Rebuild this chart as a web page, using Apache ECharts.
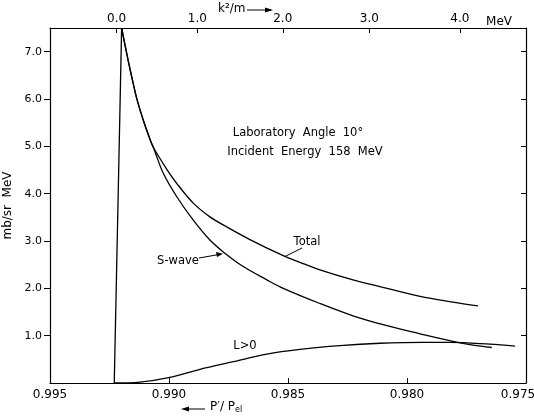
<!DOCTYPE html>
<html><head><meta charset="utf-8">
<script src="https://cdn.jsdelivr.net/npm/echarts@6/dist/echarts.min.js"></script>
<style>html,body{margin:0;padding:0;background:#fff}#c{width:534px;height:419px}</style>
</head><body><div id="c"></div>
<script>
// Bottom axis: P'/P_el
const bottomTickValues = [0.995, 0.990, 0.985, 0.980, 0.975];
const bottomTickLabels = ['0.995', '0.990', '0.985', '0.980', '0.975'];
// Top axis: k^2/m (MeV), placed at the corresponding P'/P_el
const topTickValues = [0.99220, 0.98881, 0.98522, 0.98158, 0.97778];
const topTickLabels = ['0.0', '1.0', '2.0', '3.0', '4.0'];
// Left axis: mb/sr MeV
const yTickValues = [1, 2, 3, 4, 5, 6, 7];
const yTickLabels = ['1.0', '2.0', '3.0', '4.0', '5.0', '6.0', '7.0'];

// Threshold rise (shared by S-wave and Total)
const threshold = [[0.99230, 0], [0.99199, 7.5]];
// S-wave
const sWave = [
  [0.99199, 7.5], [0.99188, 7.22], [0.99171, 6.80], [0.99150, 6.32], [0.99136, 6.02],
  [0.99108, 5.55], [0.99080, 5.15], [0.99066, 4.98], [0.99024, 4.43], [0.98968, 3.94],
  [0.98898, 3.44], [0.98828, 3.02], [0.98772, 2.77], [0.98688, 2.46], [0.98589, 2.18],
  [0.98520, 2.00], [0.98366, 1.68], [0.98227, 1.42], [0.98084, 1.21], [0.97945, 1.04],
  [0.97807, 0.88], [0.97723, 0.80], [0.97644, 0.75]
];
// Total
const total = [
  [0.99199, 7.5], [0.99188, 7.22], [0.99171, 6.80], [0.99150, 6.32], [0.99136, 6.02],
  [0.99108, 5.55], [0.99080, 5.15], [0.99066, 4.98], [0.99010, 4.52], [0.98968, 4.22],
  [0.98898, 3.80], [0.98828, 3.51], [0.98758, 3.30], [0.98660, 3.03], [0.98520, 2.69],
  [0.98450, 2.55], [0.98366, 2.39], [0.98227, 2.18], [0.98084, 2.00], [0.97945, 1.83],
  [0.97807, 1.71], [0.97702, 1.63]
];
// L > 0
const lGt0 = [
  [0.99230, 0], [0.99122, 0.02], [0.98996, 0.12], [0.98870, 0.29], [0.98730, 0.45],
  [0.98589, 0.61], [0.98450, 0.71], [0.98282, 0.79], [0.98113, 0.84], [0.97933, 0.86],
  [0.97819, 0.86], [0.97651, 0.82], [0.97546, 0.78]
];

const FONT = 'DejaVu Sans';
function lookup(vals, labels) {
  return function (v) {
    for (let i = 0; i < vals.length; i++) if (Math.abs(vals[i] - v) < 1e-7) return labels[i];
    return '';
  };
}
const bottomLabel = lookup(bottomTickValues, bottomTickLabels);
const lineStyle = { color: '#000', width: 1.3 };
function curve(name, data, smooth) {
  return { name, type: 'line', data, xAxisIndex: 0, yAxisIndex: 0, showSymbol: false,
    smooth: smooth, lineStyle, clip: true, silent: true };
}

const chart = echarts.init(document.getElementById('c'), null, { renderer: 'canvas' });
chart.setOption({
  animation: false,
  backgroundColor: '#fff',
  grid: { left: 50, right: 8, top: 28, bottom: 36, containLabel: false, outerBoundsMode: 'none' },
  xAxis: [
    { type: 'value', position: 'bottom', min: 0.975, max: 0.995, inverse: true,
      axisLine: { show: true, onZero: false, lineStyle: { color: '#000', width: 1.2 } },
      axisTick: { show: true, inside: true, length: 5, customValues: bottomTickValues.slice(1, 4),
        lineStyle: { color: '#000', width: 1 } },
      axisLabel: { show: true, customValues: bottomTickValues,
        formatter: function (v) { const t = bottomLabel(v); return Math.abs(v - 0.975) < 1e-7 ? '{r|' + t + '}' : t; },
        rich: { r: { fontSize: 12, fontFamily: FONT, color: '#000', padding: [0, 16, 0, 0] } },
        color: '#000', fontSize: 12, fontFamily: FONT, margin: 6 },
      splitLine: { show: false } },
    { type: 'value', position: 'top', min: 0.975, max: 0.995, inverse: true,
      axisLine: { show: true, onZero: false, lineStyle: { color: '#000', width: 1.2 } },
      axisTick: { show: true, inside: true, length: 5, customValues: topTickValues,
        lineStyle: { color: '#000', width: 1 } },
      axisLabel: { show: true, customValues: topTickValues, formatter: lookup(topTickValues, topTickLabels),
        color: '#000', fontSize: 12, fontFamily: FONT, margin: 3 },
      splitLine: { show: false } }
  ],
  yAxis: [
    { type: 'value', position: 'left', min: 0, max: 7.5,
      name: 'mb/sr  MeV', nameLocation: 'middle', nameRotate: 90, nameGap: 31,
      nameTextStyle: { color: '#000', fontSize: 12, fontFamily: FONT },
      axisLine: { show: true, onZero: false, lineStyle: { color: '#000', width: 1.2 } },
      axisTick: { show: true, inside: false, length: 6, customValues: yTickValues,
        lineStyle: { color: '#000', width: 1 } },
      axisLabel: { show: true, customValues: yTickValues, formatter: lookup(yTickValues, yTickLabels),
        color: '#000', fontSize: 11, fontFamily: FONT, margin: 8 },
      splitLine: { show: false } },
    { type: 'value', position: 'right', min: 0, max: 7.5,
      axisLine: { show: true, onZero: false, lineStyle: { color: '#000', width: 1.2 } },
      axisTick: { show: true, inside: true, length: 5, customValues: yTickValues,
        lineStyle: { color: '#000', width: 1 } },
      axisLabel: { show: false },
      splitLine: { show: false } }
  ],
  series: [
    curve('threshold', threshold, false),
    curve('S-wave', sWave, 0.35),
    curve('Total', total, 0.35),
    curve('L>0', lGt0, 0.35)
  ],
  graphic: [
    { type: 'text', left: 218, top: 3, style: { text: 'k²/m', fill: '#000', font: '12px "DejaVu Sans"' } },
    { type: 'line', shape: { x1: 247, y1: 10, x2: 271, y2: 10 }, style: { stroke: '#000', lineWidth: 1 } },
    { type: 'polygon', shape: { points: [[273, 10], [265, 7.5], [265, 12.5]] }, style: { fill: '#000' } },
    { type: 'text', x: 499, y: 22, style: { text: 'MeV', fill: '#000', font: '12px "DejaVu Sans"', align: 'center', verticalAlign: 'middle' } },
    { type: 'text', x: 298, y: 133, style: { text: 'Laboratory  Angle  10°', fill: '#000', font: '11.5px "DejaVu Sans"', align: 'center', verticalAlign: 'middle' } },
    { type: 'text', x: 305, y: 152, style: { text: 'Incident  Energy  158  MeV', fill: '#000', font: '11.5px "DejaVu Sans"', align: 'center', verticalAlign: 'middle' } },
    { type: 'text', x: 307, y: 242, style: { text: 'Total', fill: '#000', font: '11.5px "DejaVu Sans"', align: 'center', verticalAlign: 'middle' } },
    { type: 'line', shape: { x1: 302, y1: 248, x2: 285, y2: 256.5 }, style: { stroke: '#000', lineWidth: 1 } },
    { type: 'text', x: 178, y: 261, style: { text: 'S-wave', fill: '#000', font: '11.5px "DejaVu Sans"', align: 'center', verticalAlign: 'middle' } },
    { type: 'line', shape: { x1: 199, y1: 258, x2: 219, y2: 254.5 }, style: { stroke: '#000', lineWidth: 1 } },
    { type: 'polygon', shape: { points: [[223, 253.8], [216, 252], [217, 257]] }, style: { fill: '#000' } },
    { type: 'text', x: 245, y: 346, style: { text: 'L>0', fill: '#000', font: '11.5px "DejaVu Sans"', align: 'center', verticalAlign: 'middle' } },
    { type: 'line', shape: { x1: 184, y1: 409, x2: 205, y2: 409 }, style: { stroke: '#000', lineWidth: 1 } },
    { type: 'polygon', shape: { points: [[181, 409], [189, 406.5], [189, 411.5]] }, style: { fill: '#000' } },
    { type: 'text', left: 210, top: 401, style: { text: '{a|P′/ P}{b|el}', fill: '#000',
      rich: { a: { fontSize: 12, fontFamily: FONT, fill: '#000' }, b: { fontSize: 8, fontFamily: FONT, fill: '#000', padding: [6, 0, 0, 0] } } } }
  ]
});
</script>
</body></html>
